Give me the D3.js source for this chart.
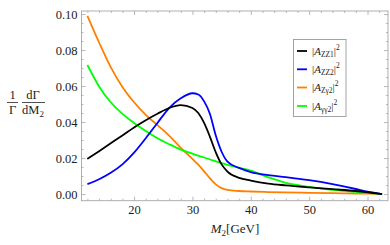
<!DOCTYPE html>
<html><head><meta charset="utf-8">
<script src="https://cdn.jsdelivr.net/npm/d3@7"></script>
<style>body{margin:0;background:#fff}svg{display:block}</style>
</head><body>
<svg id="c" width="390" height="245"></svg>
<script>
const m2 = [12,14,16,18,20,22,24,26,28,30,31,32,33,34,35,36,38,40,43,46,50,54,58,60,62.5];
const aZZ1 = [0.0195,0.0238,0.0282,0.0325,0.0370,0.0410,0.0446,0.0478,0.0494,0.0478,0.0450,0.0395,0.0318,0.0232,0.0165,0.0125,0.0090,0.0075,0.0058,0.0048,0.0037,0.0027,0.0017,0.0010,0.0];
const aZZ2 = [0.0055,0.0082,0.0118,0.0165,0.0230,0.0310,0.0395,0.0478,0.0532,0.0560,0.0553,0.0515,0.0445,0.0325,0.0235,0.0180,0.0145,0.0122,0.0105,0.0094,0.0077,0.0055,0.0028,0.0013,0.0];
const aZg2 = [0.0990,0.0842,0.0705,0.0595,0.0510,0.0440,0.0383,0.0325,0.0257,0.0195,0.0163,0.0126,0.0087,0.0054,0.0033,0.0023,0.0017,0.0014,0.0011,0.0009,0.0007,0.0005,0.0003,0.0002,0.0];
const agg2 = [0.0717,0.0598,0.0510,0.0445,0.0395,0.0350,0.0310,0.0277,0.0247,0.0224,0.0213,0.0203,0.0192,0.0182,0.0172,0.0162,0.0146,0.0130,0.0093,0.0062,0.0040,0.0023,0.0012,0.0006,0.0];
const xTicks = [20,30,40,50,60];
const yTicks = [0,0.02,0.04,0.06,0.08,0.10];
const seriesNames = ["ZZ1","ZZ2","Zγ2","γγ2"];
const seriesColors = ["#000000","#0000ff","#ff8000","#00ff00"];
const seriesData = [aZZ1,aZZ2,aZg2,agg2];

const svg = d3.select("#c");
const L=81.5, R=388, T=11, B=200.7;
const x = d3.scaleLinear().domain([10.99,63.51]).range([L,R]);
const y = d3.scaleLinear().domain([-0.0037,0.1017]).range([B,T]);
const frameCol = "#a6a6a6";
const font = "'Liberation Serif','DejaVu Serif',serif";

const xMinor = d3.range(12,64,2).filter(v=>v%10!==0);
const yMinor = d3.range(0,0.1016,0.005).filter(v=>Math.abs(v/0.02-Math.round(v/0.02))>1e-6);

function styleAxis(g){
  g.select(".domain").remove();
  g.selectAll("line").attr("stroke",frameCol).attr("stroke-width",0.8);
  g.selectAll("text").attr("font-family",font).attr("font-size","12.5px").attr("fill","#222");
}
svg.append("g").attr("transform",`translate(0,${B})`).call(d3.axisBottom(x).tickValues(xTicks).tickSize(-4).tickPadding(4).tickFormat(d3.format("d"))).call(styleAxis);
svg.append("g").attr("transform",`translate(0,${B})`).call(d3.axisBottom(x).tickValues(xMinor).tickSize(-2).tickFormat("")).call(styleAxis);
svg.append("g").attr("transform",`translate(0,${T})`).call(d3.axisTop(x).tickValues(xTicks).tickSize(-4).tickFormat("")).call(styleAxis);
svg.append("g").attr("transform",`translate(0,${T})`).call(d3.axisTop(x).tickValues(xMinor).tickSize(-2).tickFormat("")).call(styleAxis);
svg.append("g").attr("transform",`translate(${L},0)`).call(d3.axisLeft(y).tickValues(yTicks).tickSize(-4).tickPadding(4).tickFormat(d3.format(".2f"))).call(styleAxis);
svg.append("g").attr("transform",`translate(${L},0)`).call(d3.axisLeft(y).tickValues(yMinor).tickSize(-2).tickFormat("")).call(styleAxis);
svg.append("g").attr("transform",`translate(${R},0)`).call(d3.axisRight(y).tickValues(yTicks).tickSize(-4).tickFormat("")).call(styleAxis);
svg.append("g").attr("transform",`translate(${R},0)`).call(d3.axisRight(y).tickValues(yMinor).tickSize(-2).tickFormat("")).call(styleAxis);

svg.append("rect").attr("x",L).attr("y",T).attr("width",R-L).attr("height",B-T)
  .attr("fill","none").attr("stroke",frameCol).attr("stroke-width",0.9);

const line = d3.line().x((d,i)=>x(m2[i])).y(d=>y(d)).curve(d3.curveMonotoneX);
svg.append("clipPath").attr("id","pc").append("rect").attr("x",L).attr("y",T).attr("width",R-L).attr("height",B-T);
const plot = svg.append("g").attr("clip-path","url(#pc)");
[2,3,1,0].forEach(k=>{
  plot.append("path").datum(seriesData[k]).attr("d",line).attr("fill","none")
    .attr("stroke",seriesColors[k]).attr("stroke-width",1.8).attr("stroke-linejoin","round");
});

const yl = svg.append("g").attr("font-family",font).attr("font-size","12.5px").attr("fill","#222");
yl.append("text").attr("x",12.5).attr("y",99).attr("text-anchor","middle").text("1");
yl.append("line").attr("x1",7).attr("x2",18).attr("y1",102.5).attr("y2",102.5).attr("stroke","#222").attr("stroke-width",0.8);
yl.append("text").attr("x",12.5).attr("y",114).attr("text-anchor","middle").text("Γ");
yl.append("text").attr("x",33).attr("y",99).attr("text-anchor","middle").text("dΓ");
yl.append("line").attr("x1",22).attr("x2",45).attr("y1",102.5).attr("y2",102.5).attr("stroke","#222").attr("stroke-width",0.8);
const dm = yl.append("text").attr("x",22).attr("y",114);
dm.append("tspan").text("dM");
dm.append("tspan").attr("font-size","9px").attr("dy",2.5).text("2");

const xl = svg.append("text").attr("x",235).attr("y",233).attr("text-anchor","middle")
  .attr("font-family",font).attr("font-size","13px").attr("fill","#222");
xl.append("tspan").attr("font-style","italic").text("M");
xl.append("tspan").attr("font-size","9px").attr("dy",2.5).text("2");
xl.append("tspan").attr("dy",-2.5).text("[GeV]");

const lg = svg.append("g");
lg.append("rect").attr("x",293.5).attr("y",39.5).attr("width",52.5).attr("height",77)
  .attr("fill","#fff").attr("stroke","#999").attr("stroke-width",0.9);
const ly = [51,69.3,87.5,106];
seriesNames.forEach((n,i)=>{
  lg.append("line").attr("x1",297).attr("x2",307).attr("y1",ly[i]).attr("y2",ly[i])
    .attr("stroke",seriesColors[i]).attr("stroke-width",1.8);
  const t = lg.append("text").attr("x",312).attr("y",ly[i]+3.5)
    .attr("font-family",font).attr("font-size","11px").attr("fill","#222");
  t.append("tspan").text("|");
  t.append("tspan").attr("font-style","italic").text("A");
  t.append("tspan").attr("font-size","7.5px").attr("dy",2).text(n);
  t.append("tspan").attr("dy",-2).text("|");
  t.append("tspan").attr("font-size","7.5px").attr("dy",-5).text("2");
});
</script>
</body></html>
